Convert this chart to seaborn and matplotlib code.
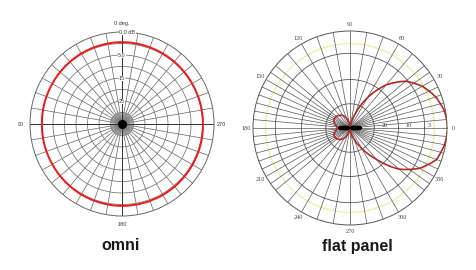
import numpy as np
import pandas as pd
import matplotlib
matplotlib.use("Agg")
import matplotlib.pyplot as plt
import seaborn as sns

# ---------------- data ----------------
omni_angle_deg = [0, 30, 60, 90, 120, 150, 180, 210, 240, 270, 300, 330, 360]
omni_gain = [0.89, 0.885, 0.875, 0.87, 0.875, 0.885, 0.89, 0.89, 0.885, 0.88, 0.88, 0.885, 0.89]

panel_angle_deg = [0, 10, 20, 30, 40, 50, 60, 70, 80, 90, 100, 110, 120, 130, 140, 150,
                   160, 170, 180, 190, 200, 210, 220, 230, 240, 250, 260, 270, 280, 290,
                   300, 310, 320, 330, 340, 350, 360]
panel_gain = [1.01, 0.99, 0.94, 0.86, 0.75, 0.58, 0.36, 0.15, 0.04, 0.02, 0.06, 0.11,
              0.15, 0.17, 0.185, 0.19, 0.175, 0.145, 0.13, 0.145, 0.175, 0.185, 0.175,
              0.155, 0.12, 0.07, 0.03, 0.02, 0.05, 0.12, 0.24, 0.42, 0.66, 0.83, 0.95,
              0.99, 1.01]

omni_ring_labels = ["0.0 dB", "5.0", "15", "25"]
omni_angle_labels = ["0 deg.", "90", "180", "270"]
panel_angle_labels = ["0", "30", "60", "90", "120", "150", "180", "210", "240", "270", "300", "330"]
panel_ring_labels = ["20", "10", "3"]
titles = ["omni", "flat panel"]

# ---------------- style ----------------
sns.set_style("white")
plt.rcParams["font.family"] = ["Liberation Sans", "DejaVu Sans"]

W, H = 476, 270
fig = plt.figure(figsize=(W / 100, H / 100), dpi=100)
fig.patch.set_facecolor("white")

def box(cx, cy, r):
    return [(cx - r) / W, (H - cy - r) / H, 2 * r / W, 2 * r / H]

def curve_line(ln):
    # let the polar transform draw each segment as a curve in data space
    ln.get_path()._interpolation_steps = 60

full = np.linspace(0, 2 * np.pi, 361)

# ---------------- omni ----------------
ax1 = fig.add_axes(box(122, 124, 92), projection="polar")
ax1.set_theta_zero_location("N")
ax1.set_theta_direction(1)
ax1.set_ylim(0, 1)
ax1.grid(False)
ax1.set_xticks([])
ax1.set_yticks([])
ax1.spines["polar"].set_color("#666666")
ax1.spines["polar"].set_linewidth(0.7)
ax1.set_facecolor("none")
gcol1 = "#707070"
for k in range(1, 8):
    ax1.plot(full, np.full_like(full, k / 8), color=gcol1, lw=0.55, zorder=1)
for a in np.arange(0, 360, 10):
    t = np.deg2rad(a)
    ax1.plot([t, t], [0, 1], color=gcol1, lw=0.55, zorder=1)
for a in np.arange(5, 360, 10):
    t = np.deg2rad(a)
    ax1.plot([t, t], [0, 0.12], color=gcol1, lw=0.45, zorder=1)
for a in [0, 90, 180, 270]:
    t = np.deg2rad(a)
    ax1.plot([t, t], [0, 1], color="#333333", lw=0.7, zorder=1)
ax1.plot([0], [0], "o", color="black", ms=5.5, zorder=3)

df1 = pd.DataFrame({"theta": np.deg2rad(omni_angle_deg), "r": omni_gain})
sns.lineplot(data=df1, x="theta", y="r", sort=False, ax=ax1, color="#ee1a1a",
             lw=1.4, zorder=4, estimator=None)
curve_line(ax1.lines[-1])
ax1.set_xlabel("")
ax1.set_ylabel("")
ax1.set_ylim(0, 1)

for lab, r in zip(omni_ring_labels, [1.0, 0.75, 0.5, 0.25]):
    ax1.text(0.03 if r == 1.0 else 0.0, r - 0.005, lab, fontsize=4, ha="center" if r != 1.0 else "left",
             va="center", color="#333333", zorder=5,
             bbox=dict(facecolor="white", edgecolor="none", pad=0.2))
ax1.text(0, 1.06, omni_angle_labels[0], fontsize=4, ha="center", va="bottom", color="#333333")
ax1.text(np.pi / 2, 1.10, omni_angle_labels[1], fontsize=4, ha="center", va="center", color="#333333")
ax1.text(np.pi, 1.09, omni_angle_labels[2], fontsize=4, ha="center", va="center", color="#333333")
ax1.text(3 * np.pi / 2, 1.08, omni_angle_labels[3], fontsize=4, ha="center", va="center", color="#333333")

# ---------------- flat panel ----------------
ax2 = fig.add_axes(box(350, 128, 97), projection="polar")
ax2.set_theta_zero_location("E")
ax2.set_theta_direction(1)
ax2.set_ylim(0, 1)
ax2.grid(False)
ax2.set_xticks([])
ax2.set_yticks([])
ax2.spines["polar"].set_color("#555555")
ax2.spines["polar"].set_linewidth(0.7)
ax2.set_facecolor("none")
gcol2 = "#555555"
ax2.plot(full, np.full_like(full, 0.87), color="#eeeeaa", lw=1.0, zorder=1)
for r in [0.25, 0.5, 0.77]:
    ax2.plot(full, np.full_like(full, r), color=gcol2, lw=0.6, zorder=1)
angles = []
for a in np.arange(0, 360, 5):
    m = a % 180
    if m <= 40 or m >= 140 or a % 10 == 0:
        angles.append(a)
for a in angles:
    t = np.deg2rad(a)
    ax2.plot([t, t], [0, 1], color=gcol2, lw=0.5, zorder=1)
ax2.plot([0, 0], [0, 0.1], color="black", lw=3.2, zorder=2, solid_capstyle="round")
ax2.plot([np.pi, np.pi], [0, 0.1], color="black", lw=3.2, zorder=2, solid_capstyle="round")

df2 = pd.DataFrame({"theta": np.deg2rad(panel_angle_deg), "r": panel_gain})
sns.lineplot(data=df2, x="theta", y="r", sort=False, ax=ax2, color="#b02a2a",
             lw=1.2, zorder=4, estimator=None)
curve_line(ax2.lines[-1])
ax2.set_xlabel("")
ax2.set_ylabel("")
ax2.set_ylim(0, 1)

for i, lab in enumerate(panel_angle_labels):
    t = np.deg2rad(30 * i)
    ax2.text(t, 1.07, lab, fontsize=4.5, ha="center", va="center", color="#444444",
             family=["Liberation Serif", "DejaVu Serif"])
for lab, r in zip(panel_ring_labels, [0.33, 0.57, 0.80]):
    ax2.text(0.0, r, lab, fontsize=4.5, ha="left", va="bottom", color="#444444",
             family=["Liberation Serif", "DejaVu Serif"], zorder=5)

# ---------------- titles ----------------
fig.text(121 / W, 1 - 246 / H, titles[0], fontsize=11.5, fontweight="bold", ha="center",
         va="center", color="#1a1a1a")
fig.text(357 / W, 1 - 247 / H, titles[1], fontsize=11.5, fontweight="bold", ha="center",
         va="center", color="#1a1a1a")

fig.savefig("out.png", dpi=100, facecolor="white")
